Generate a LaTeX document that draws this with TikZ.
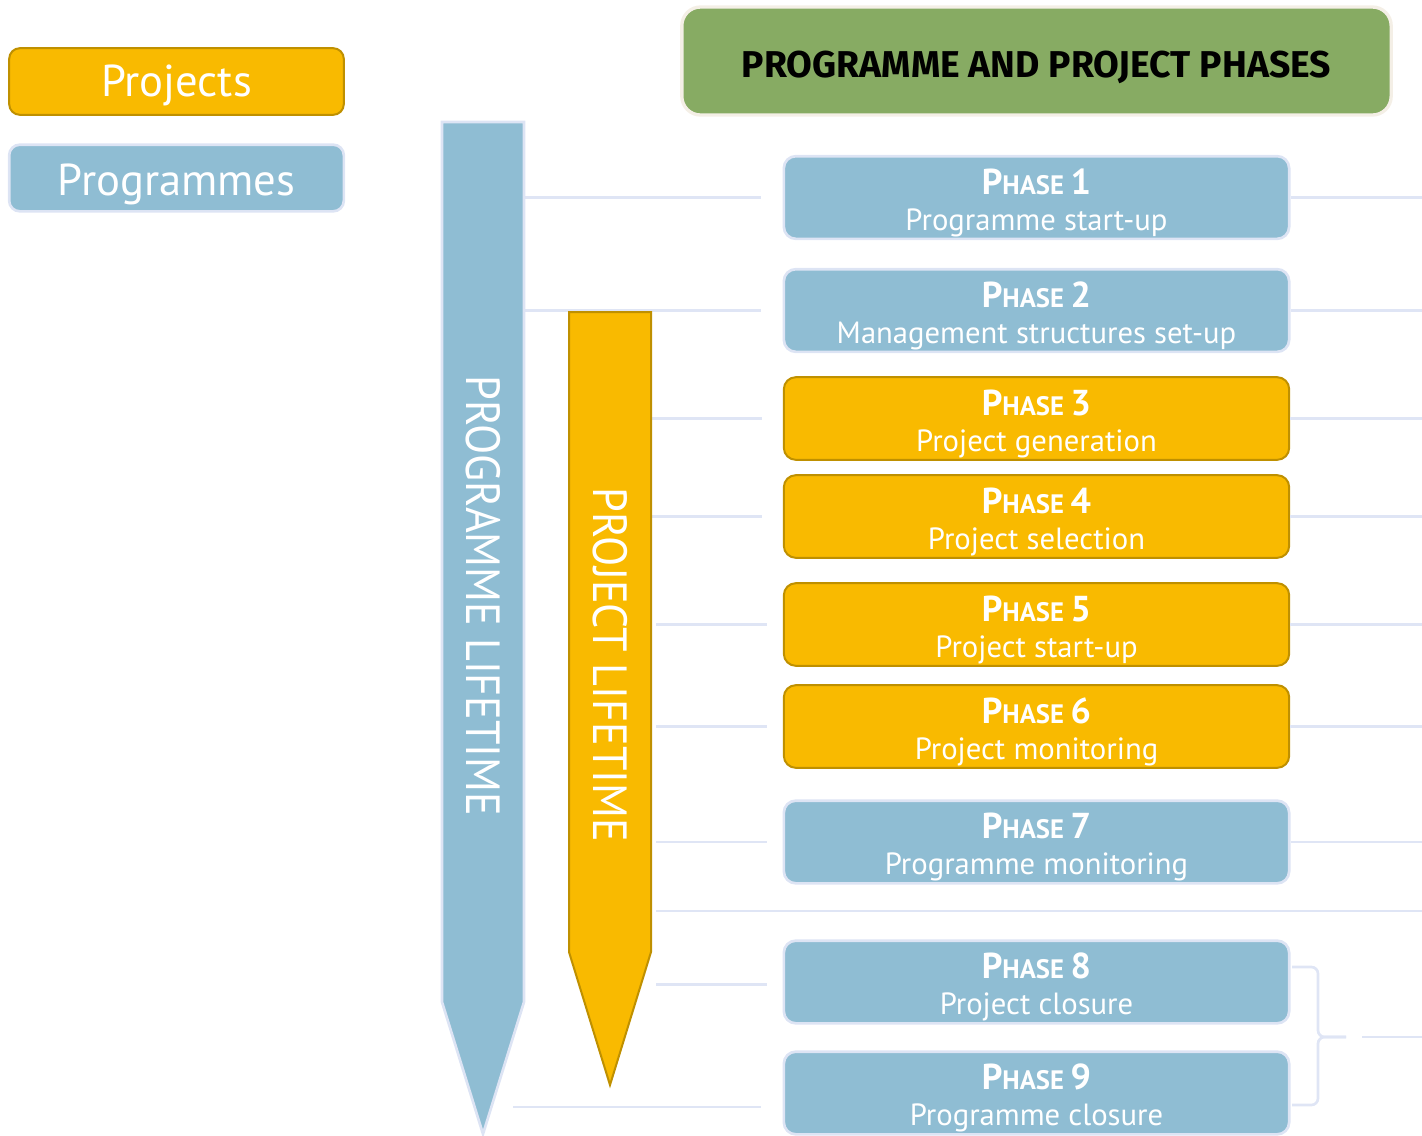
\documentclass[tikz,border=0pt]{standalone}
\usepackage{fontspec}
\setmainfont{PT Sans}
\newfontfamily\headfont{Fira Sans}
\newfontfamily\arrowfont[FakeStretch=0.92]{PT Sans}
\usetikzlibrary{positioning}

\definecolor{progblue}{HTML}{8FBDD3}
\definecolor{progedge}{HTML}{DDE4F4}
\definecolor{projgold}{HTML}{F9BA00}
\definecolor{projedge}{HTML}{BF9000}
\definecolor{headgreen}{HTML}{87AB63}
\definecolor{headedge}{HTML}{F4EFE6}
\definecolor{linkcol}{HTML}{DFE5F5}

\tikzset{
  progbox/.style={draw=progedge, line width=2pt, fill=progblue, rounded corners=9pt,
    text=white, minimum width=379pt, minimum height=62pt,
    font=\fontsize{23}{27}\selectfont},
  projbox/.style={progbox, draw=projedge, line width=1.5pt, fill=projgold},
  link/.style={draw=linkcol, line width=2pt},
  legendbox/.style={rounded corners=8pt, text=white, minimum width=251pt,
    minimum height=50pt, font=\fontsize{33.5}{38}\selectfont},
}
\newcommand{\phasetitle}[1]{{\bfseries\fontsize{27}{27}\selectfont P\fontsize{20}{27}\selectfont HASE\ \fontsize{27}{27}\selectfont #1}}
\newcommand{\phasetext}[2]{\raisebox{-5.5pt}[\height][\depth]{\begin{tabular}{@{}c@{}}\phasetitle{#1}\\#2\end{tabular}}}

\begin{document}
\begin{tikzpicture}[x=0.75pt, y=-0.75pt]
    \useasboundingbox (0,0) rectangle (1422,1136);

    % legend and title
    \node[legendbox, draw=projedge, line width=1.5pt, fill=projgold, text height=26pt, text depth=3.2pt] (legproj) at (176.5,81.5) {Projects};
    \node[legendbox, draw=progedge, line width=2pt, fill=progblue, text height=28pt, text depth=2.5pt] (legprog) at (176.5,178) {Programmes};
    \node[draw=headedge, line width=2.5pt, fill=headgreen, rounded corners=14pt,
      minimum width=532pt, minimum height=81pt, text height=24pt, text depth=0pt,
      font=\headfont\bfseries\fontsize{28}{32}\selectfont]
      (title) at (1036.5,61) {PROGRAMME AND PROJECT PHASES};

    % phases
    \node[progbox] (p1) at (1036.5,197.5) {\phasetext{1}{Programme start-up}};
    \node[progbox] (p2) at (1036.5,310.5) {\phasetext{2}{Management structures set-up}};
    \node[projbox] (p3) at (1036.5,418.5) {\phasetext{3}{Project generation}};
    \node[projbox] (p4) at (1036.5,516.5) {\phasetext{4}{Project selection}};
    \node[projbox] (p5) at (1036.5,624.5) {\phasetext{5}{Project start-up}};
    \node[projbox] (p6) at (1036.5,726.5) {\phasetext{6}{Project monitoring}};
    \node[progbox] (p7) at (1036.5,842) {\phasetext{7}{Programme monitoring}};
    \node[progbox] (p8) at (1036.5,982) {\phasetext{8}{Project closure}};
    \node[progbox] (p9) at (1036.5,1093) {\phasetext{9}{Programme closure}};

    \coordinate (progR) at (525,0);
    \coordinate (projR) at (652,0);
    \coordinate (projS) at (656,0);
    \coordinate (rim) at (1422,0);

    % connectors on the left
    \draw[link, shorten >=16pt] (progR |- p1.west) -- (p1.west);
    \draw[link, shorten >=16pt] (progR |- p2.west) -- (p2.west);
    \draw[link, shorten >=16pt] (projR |- p3.west) -- (p3.west);
    \draw[link, shorten >=16pt] (projR |- p4.west) -- (p4.west);
    \draw[link, shorten >=12pt] (projS |- p5.west) -- (p5.west);
    \draw[link, shorten >=12pt] (projS |- p6.west) -- (p6.west);
    \draw[link, shorten >=12pt] (projS |- p7.west) -- (p7.west);
    \draw[link, shorten >=12pt] ([yshift=-2pt]projS |- p8.west) -- ([yshift=-2pt]p8.west);
    \draw[link, shorten >=16pt] ([yshift=-10.5pt]513,0 |- p9.west) -- ([yshift=-10.5pt]p9.west);
    \coordinate (split) at (656,911);
    \draw[link] (split) -- (rim |- split);

    % connectors on the right
    \foreach \p in {p1,p2,p3,p4,p5,p6,p7}
        \draw[link] (\p.east) -- (rim |- \p.east);
    \draw[link, rounded corners=5pt] (1292,967) -- (1318,967) -- (1318,1037) -- (1346,1037);
    \draw[link, rounded corners=5pt] (1292,1105) -- (1318,1105) -- (1318,1037) -- (1346,1037);
    \coordinate (brace) at (1362,1037);
    \draw[link] (brace) -- (rim |- brace);

    % lifetime arrows
    \draw[draw=progedge, line width=2pt, fill=progblue]
        (442,122) -- (524,122) -- (524,1002) -- (483,1134) -- (442,1002) -- cycle;
    \draw[draw=projedge, line width=1.5pt, fill=projgold]
        (569,312) -- (651,312) -- (651,952) -- (610,1085) -- (569,952) -- cycle;
    \node[rotate=-90, text=white, font=\arrowfont\fontsize{36}{40}\selectfont] (proglife) at (483,596) {PROGRAMME LIFETIME};
    \node[rotate=-90, text=white, font=\arrowfont\fontsize{36}{40}\selectfont] (projlife) at (610,665) {PROJECT LIFETIME};
\end{tikzpicture}
\end{document}
